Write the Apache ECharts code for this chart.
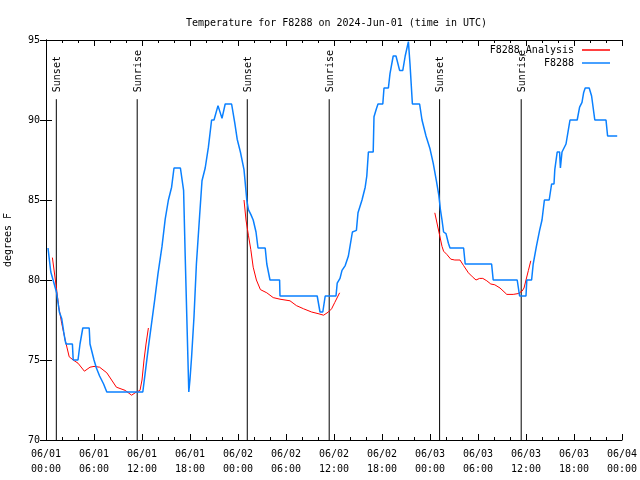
<!DOCTYPE html>
<html><head><meta charset="utf-8">
<script src="https://cdn.jsdelivr.net/npm/echarts@6/dist/echarts.min.js"></script>
<style>html,body{margin:0;padding:0;background:#fff}#c{width:640px;height:480px}</style>
</head><body><div id="c"></div>
<script>
// hours since 2024-06-01 00:00 UTC
const xTickLabels = ['06/01\n00:00','06/01\n06:00','06/01\n12:00','06/01\n18:00','06/02\n00:00','06/02\n06:00','06/02\n12:00','06/02\n18:00','06/03\n00:00','06/03\n06:00','06/03\n12:00','06/03\n18:00','06/04\n00:00'];
const obsHours = [0.25,0.6,1.0,1.33,1.67,1.96,2.2,2.4,2.5,3.3,3.4,4.0,4.25,4.6,5.4,5.5,6.0,6.3,6.7,7.2,7.6,12.1,12.4,12.8,13.2,13.6,14.0,14.5,14.9,15.3,15.7,16.0,16.8,17.2,17.4,17.6,17.85,18.0,18.2,18.5,18.8,19.2,19.5,19.9,20.3,20.7,21.0,21.5,22.0,22.4,23.2,23.6,23.9,24.3,24.75,25.1,25.3,25.6,25.9,26.25,26.5,27.4,27.6,28.0,29.2,29.25,33.9,34.25,34.6,34.9,36.25,36.4,36.75,37.0,37.4,37.8,38.0,38.3,38.8,39.0,39.5,39.9,40.1,40.3,40.9,41.0,41.3,41.5,42.1,42.25,42.8,43.0,43.4,43.75,44.2,44.6,44.9,45.3,45.5,45.8,46.7,47.0,47.5,48.0,48.4,48.8,49.0,49.1,49.3,49.5,49.7,50.0,50.3,50.5,52.2,52.4,55.7,55.9,58.9,59.2,60.0,60.1,60.7,60.9,61.3,61.7,62.0,62.3,62.9,63.2,63.5,63.6,63.9,64.2,64.3,64.5,65.0,65.3,65.5,66.4,66.7,67.0,67.2,67.4,67.9,68.2,68.6,70.0,70.2,71.4];
const obsTemps = [82.0,80.5,79.8,79.2,78.0,77.6,76.8,76.2,76.0,76.0,75.0,75.0,76.0,77.0,77.0,76.0,75.0,74.5,74.0,73.5,73.0,73.0,74.2,75.8,77.3,78.8,80.4,82.1,83.8,85.0,85.8,87.0,87.0,85.6,81.5,77.7,73.0,73.8,75.2,77.7,81.0,84.0,86.2,87.0,88.3,90.0,90.0,90.9,90.1,91.0,91.0,89.8,88.8,88.0,86.9,85.0,84.4,84.1,83.75,83.0,82.0,82.0,81.0,80.0,80.0,79.0,79.0,78.0,78.0,79.0,79.0,79.8,80.1,80.6,80.9,81.5,82.1,83.0,83.1,84.2,85.0,85.8,86.5,88.0,88.0,90.2,90.7,91.0,91.0,92.0,92.0,92.9,94.0,94.0,93.1,93.1,94.0,94.9,93.5,91.0,91.0,90.0,89.0,88.2,87.3,86.2,86.25,85.3,84.4,83.75,83.0,82.9,82.3,82.0,82.0,81.0,81.0,80.0,80.0,79.0,79.0,80.0,80.0,81.0,82.1,83.1,83.75,85.0,85.0,86.0,86.0,86.9,88.0,88.0,87.0,88.0,88.5,89.4,90.0,90.0,90.8,91.1,91.7,92.0,92.0,91.5,90.0,90.0,89.0,89.0];
const anaHours = [0.8,1.33,1.6,1.96,2.4,2.9,3.4,4.0,4.8,5.5,6.0,6.7,7.6,8.2,8.8,9.9,10.7,11.3,11.75,12.0,12.25,12.5,12.8,18.0,24.75,25.0,25.3,25.6,25.9,26.3,26.8,27.6,28.4,29.25,30.5,31.3,32.2,33.2,34.0,34.7,35.3,35.7,36.1,36.7,42.0,48.6,48.9,49.2,49.5,49.7,50.1,50.6,51.1,51.75,52.2,52.8,53.3,53.75,54.2,54.6,55.1,55.6,56.1,56.75,57.6,58.4,59.0,59.5,59.75,60.0,60.3,60.6];
const anaTemps = [81.4,79.4,78.3,77.3,76.25,75.2,75.0,74.8,74.3,74.55,74.6,74.55,74.2,73.75,73.3,73.1,72.8,73.0,73.1,73.75,75.0,76.0,77.0,null,85.0,83.75,82.8,81.9,80.8,80.0,79.4,79.2,78.9,78.8,78.7,78.4,78.2,78.0,77.9,77.8,78.0,78.2,78.6,79.2,null,84.2,83.5,82.8,82.1,81.8,81.6,81.3,81.25,81.25,80.9,80.45,80.2,80.0,80.1,80.1,79.95,79.75,79.7,79.5,79.1,79.1,79.15,79.3,79.5,80.0,80.6,81.2];
const sunHours = [1.29,11.4,25.16,35.4,49.2,59.4];
const sunLabels = ['Sunset','Sunrise','Sunset','Sunrise','Sunset','Sunrise'];

const FONT = 'DejaVu Sans Mono';
const FS = 10;
const chart = echarts.init(document.getElementById('c'));
const axisCommon = {
  axisLine: {show: true, lineStyle: {color: '#000', width: 1}},
  splitLine: {show: false}
};
chart.setOption({
  animation: false,
  backgroundColor: '#fff',
  title: {text: 'Temperature for F8288 on 2024-Jun-01 (time in UTC)', left: 181, top: 13,
    textStyle: {fontFamily: FONT, fontSize: FS, fontWeight: 'normal', color: '#000'}},
  legend: {data: ['F8288_Analysis', 'F8288'], orient: 'vertical', right: 30, top: 44, align: 'right',
    padding: 0, icon: 'rect', itemWidth: 28, itemHeight: 1.5, itemGap: 1,
    textStyle: {fontFamily: FONT, fontSize: FS, color: '#000', lineHeight: 12, padding: [0, 3, 0, 0]}},
  grid: {left: 46, right: 18, top: 40, bottom: 40, containLabel: false, outerBoundsMode: 'none'},
  xAxis: [
    Object.assign({type: 'value', min: 0, max: 72, interval: 6, position: 'bottom',
      axisTick: {inside: true, length: 6, lineStyle: {color: '#000'}},
      minorTick: {show: true, splitNumber: 3, length: 3, lineStyle: {color: '#000'}},
      axisLabel: {fontFamily: FONT, fontSize: FS, color: '#000', lineHeight: 15, margin: 7,
        formatter: (v) => xTickLabels[Math.round(v / 6)]}}, axisCommon),
    Object.assign({type: 'value', min: 0, max: 72, interval: 6, position: 'top',
      axisTick: {inside: true, length: 6, lineStyle: {color: '#000'}},
      minorTick: {show: true, splitNumber: 3, length: 3, lineStyle: {color: '#000'}},
      axisLabel: {show: false}}, axisCommon)
  ],
  yAxis: [
    Object.assign({type: 'value', min: 70, max: 95, interval: 5, position: 'left',
      name: 'degrees F', nameLocation: 'middle', nameGap: 33, nameRotate: 90,
      nameTextStyle: {fontFamily: FONT, fontSize: FS, color: '#000'},
      axisTick: {inside: true, length: 6, lineStyle: {color: '#000'}},
      axisLabel: {fontFamily: FONT, fontSize: FS, color: '#000', margin: 6}}, axisCommon),
    Object.assign({type: 'value', min: 70, max: 95, interval: 5, position: 'right',
      axisTick: {inside: true, length: 6, lineStyle: {color: '#000'}},
      axisLabel: {show: false}}, axisCommon)
  ],
  series: [
    {type: 'custom', name: 'sun', xAxisIndex: 0, yAxisIndex: 0, silent: true, z: 1,
      data: sunHours.map(h => [h]),
      encode: {x: 0},
      renderItem: function (params, api) {
        const top = api.coord([api.value(0), 91.3]);
        const bot = api.coord([api.value(0), 70]);
        return {type: 'group', children: [
          {type: 'line', shape: {x1: top[0], y1: top[1], x2: bot[0], y2: bot[1]},
            style: {stroke: '#000', lineWidth: 1}},
          {type: 'text', x: top[0] + 1, y: top[1] - 7, rotation: Math.PI / 2,
            style: {text: sunLabels[params.dataIndex], fontFamily: FONT, fontSize: FS, fill: '#000',
              align: 'left', verticalAlign: 'middle'}}
        ]};
      }},
    {type: 'line', name: 'F8288_Analysis', z: 2, showSymbol: false, connectNulls: false,
      data: anaHours.map((h, i) => [h, anaTemps[i]]),
      lineStyle: {color: '#ff0000', width: 1}, itemStyle: {color: '#ff0000'}},
    {type: 'line', name: 'F8288', z: 3, showSymbol: false,
      data: obsHours.map((h, i) => [h, obsTemps[i]]),
      lineStyle: {color: '#0a80ff', width: 1.5}, itemStyle: {color: '#0a80ff'}}
  ]
});
</script></body></html>
